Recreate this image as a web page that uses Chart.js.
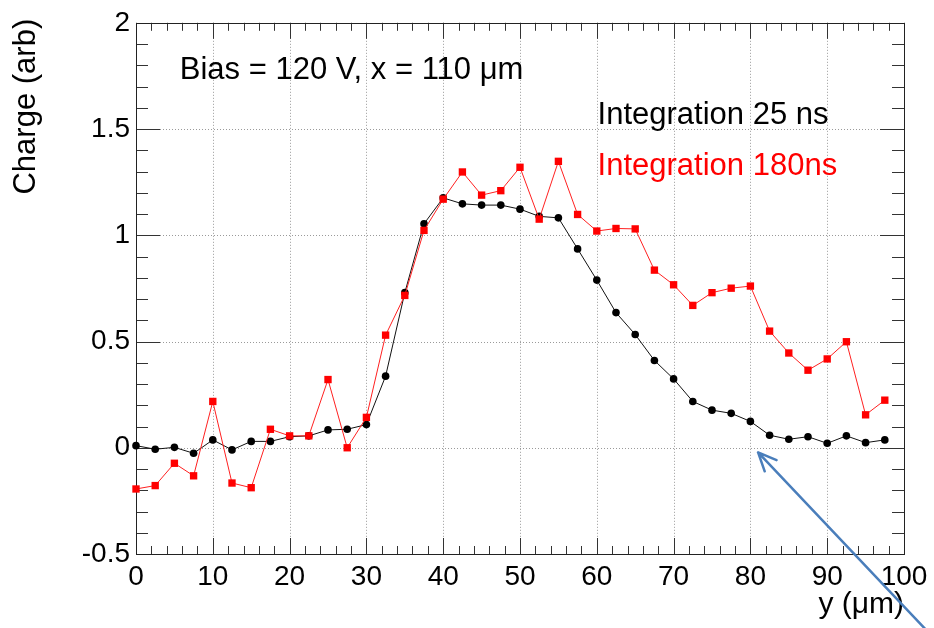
<!DOCTYPE html>
<html>
<head>
<meta charset="utf-8">
<script src="https://cdn.jsdelivr.net/npm/chart.js@4/dist/chart.umd.min.js"></script>
<style>
  html,body{margin:0;padding:0;background:#fff;}
  canvas{display:block;}
</style>
</head>
<body>
<canvas id="chart" width="934" height="628"></canvas>
<script>
// ---------------- Dados ----------------
const yPos = [0,2.5,5,7.5,10,12.5,15,17.5,20,22.5,25,27.5,30,32.5,35,37.5,40,42.5,45,47.5,
              50,52.5,55,57.5,60,62.5,65,67.5,70,72.5,75,77.5,80,82.5,85,87.5,90,92.5,95,97.5];
const charge25 = [0.010,-0.007,0.002,-0.026,0.037,-0.010,0.030,0.030,0.052,0.056,
                  0.084,0.087,0.109,0.337,0.730,1.054,1.176,1.148,1.142,1.142,
                  1.123,1.089,1.082,0.936,0.789,0.636,0.533,0.411,0.324,0.218,
                  0.177,0.162,0.124,0.059,0.040,0.052,0.021,0.056,0.024,0.037];
const charge180 = [-0.194,-0.178,-0.073,-0.132,0.218,-0.166,-0.188,0.087,0.056,0.056,
                   0.321,0.000,0.143,0.530,0.717,1.023,1.170,1.298,1.189,1.210,
                   1.320,1.076,1.348,1.098,1.020,1.032,1.030,0.836,0.767,0.670,
                   0.730,0.751,0.761,0.549,0.446,0.365,0.418,0.499,0.155,0.224];
const xRange = [0,100];
const yRange = [-0.5,2];
const labelBias = "Bias = 120 V, x = 110 \u03bcm";
const label25 = "Integration 25 ns";
const label180 = "Integration 180ns";
const xTitle = "y (\u03bcm)";
const yTitle = "Charge (arb)";

const FONT = "'Liberation Sans', Arial, Helvetica, sans-serif";
const toXY = (xs,ys)=>xs.map((x,i)=>({x:x,y:ys[i]}));

// ---------------- Estilo ROOT (frame, ticks, grid, textos) ----------------
const rootStyle = {
  id:"rootStyle",
  beforeDatasetsDraw(chart){
    const {ctx, chartArea:a, scales:{x,y}} = chart;
    ctx.save();
    // grid pontilhado nos ticks maiores
    ctx.strokeStyle="#9a9a9a"; ctx.lineWidth=1; ctx.setLineDash([1,2]);
    for(let v=10; v<100; v+=10){
      const px=Math.round(x.getPixelForValue(v))+0.5;
      ctx.beginPath(); ctx.moveTo(px,a.top); ctx.lineTo(px,a.bottom); ctx.stroke();
    }
    for(let v=0; v<2; v+=0.5){
      const py=Math.round(y.getPixelForValue(v))+0.5;
      ctx.beginPath(); ctx.moveTo(a.left,py); ctx.lineTo(a.right,py); ctx.stroke();
    }
    ctx.setLineDash([]);
    // ticks para dentro, nos quatro lados
    ctx.strokeStyle="#333";
    for(let i=0;i<=50;i++){
      const v=i*2, px=Math.round(x.getPixelForValue(v))+0.5;
      const len = (i%5===0)?16:8;
      ctx.beginPath();
      ctx.moveTo(px,a.bottom); ctx.lineTo(px,a.bottom-len);
      ctx.moveTo(px,a.top); ctx.lineTo(px,a.top+len);
      ctx.stroke();
    }
    for(let i=0;i<=25;i++){
      const v=-0.5+i*0.1, py=Math.round(y.getPixelForValue(v))+0.5;
      const len = (i%5===0)?24:12;
      ctx.beginPath();
      ctx.moveTo(a.left,py); ctx.lineTo(a.left+len,py);
      ctx.moveTo(a.right,py); ctx.lineTo(a.right-len,py);
      ctx.stroke();
    }
    // moldura
    ctx.strokeStyle="#222";
    ctx.strokeRect(Math.round(a.left)+0.5, Math.round(a.top)+0.5, Math.round(a.width), Math.round(a.height));
    ctx.restore();
  },
  afterDraw(chart){
    const {ctx, chartArea:a, scales:{x,y}} = chart;
    ctx.save();
    ctx.font="31px "+FONT;
    ctx.textBaseline="alphabetic";
    ctx.textAlign="left";
    ctx.fillStyle="#000";
    ctx.fillText(labelBias, x.getPixelForValue(5.7), y.getPixelForValue(1.735));
    ctx.fillText(label25, x.getPixelForValue(60.1), y.getPixelForValue(1.524));
    ctx.fillStyle="#ff0000";
    ctx.fillText(label180, x.getPixelForValue(60.1), y.getPixelForValue(1.282));
    // títulos dos eixos
    ctx.fillStyle="#000";
    ctx.font="30px "+FONT;
    ctx.textAlign="right";
    ctx.fillText(xTitle, a.right, 613);
    ctx.font="31px "+FONT;
    ctx.translate(35, a.top-4);
    ctx.rotate(-Math.PI/2);
    ctx.fillText(yTitle, 0, 0);
    ctx.restore();
    // seta azul
    ctx.save();
    const tx=x.getPixelForValue(81), ty=y.getPixelForValue(-0.022);
    const sx=x.getPixelForValue(104), sy=y.getPixelForValue(-0.9);
    const ang=Math.atan2(ty-sy, tx-sx);
    ctx.strokeStyle="#4a7ebb"; ctx.lineWidth=2.5; ctx.lineCap="round";
    ctx.beginPath(); ctx.moveTo(sx,sy); ctx.lineTo(tx,ty);
    const h=20;
    ctx.moveTo(tx,ty); ctx.lineTo(tx-h*Math.cos(ang-0.42), ty-h*Math.sin(ang-0.42));
    ctx.moveTo(tx,ty); ctx.lineTo(tx-h*Math.cos(ang+0.42), ty-h*Math.sin(ang+0.42));
    ctx.stroke();
    ctx.restore();
  }
};

// ---------------- Gráfico ----------------
new Chart(document.getElementById("chart"),{
  type:"line",
  data:{datasets:[
    {label:label180, data:toXY(yPos,charge180), order:0,
     borderColor:"#ff2020", borderWidth:1, backgroundColor:"#ff0000",
     pointStyle:"rect", pointRadius:5.2, pointBorderWidth:0, pointBackgroundColor:"#ff0000",
     tension:0, clip:false},
    {label:label25, data:toXY(yPos,charge25), order:1,
     borderColor:"#111", borderWidth:1, backgroundColor:"#000",
     pointStyle:"circle", pointRadius:3.8, pointBorderWidth:0, pointBackgroundColor:"#000",
     tension:0, clip:false}
  ]},
  options:{
    responsive:false, devicePixelRatio:1, animation:false,
    layout:{padding:{left:0,right:30,top:20,bottom:0}},
    plugins:{legend:{display:false}, tooltip:{enabled:false}},
    scales:{
      x:{type:"linear", min:xRange[0], max:xRange[1],
         grid:{display:false, drawTicks:false}, border:{display:false},
         afterFit:s=>{s.height=74;},
         ticks:{stepSize:10, padding:6, color:"#000", maxRotation:0, autoSkip:false,
                font:{family:FONT, size:28}}},
      y:{min:yRange[0], max:yRange[1],
         grid:{display:false, drawTicks:false}, border:{display:false},
         afterFit:s=>{s.width=136;},
         ticks:{stepSize:0.5, padding:6, color:"#000",
                callback:v=>String(Math.round(v*10)/10),
                font:{family:FONT, size:28}}}
    }
  },
  plugins:[rootStyle]
});
</script>
</body>
</html>
